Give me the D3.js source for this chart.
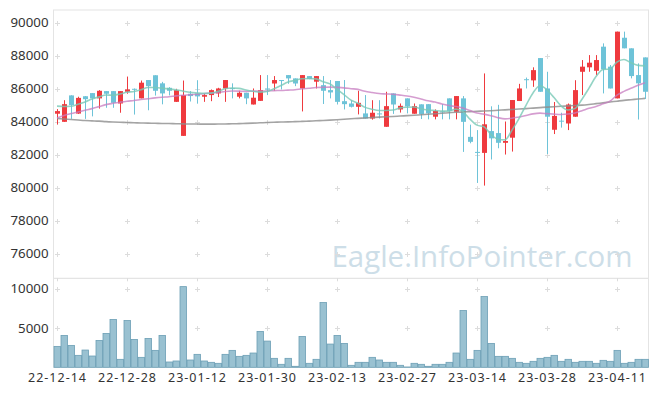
<!DOCTYPE html>
<html>
<head>
<meta charset="utf-8">
<script src="https://cdn.jsdelivr.net/npm/d3@7"></script>
<style>
  html, body { margin: 0; padding: 0; background: #fff; }
  svg { display: block; font-family: "Noto Sans", "Open Sans", sans-serif; }
</style>
</head>
<body>
<svg id="chart" width="657" height="396"></svg>
<script>
const dates = ["22-12-14","22-12-15","22-12-16","22-12-19","22-12-20","22-12-21","22-12-22","22-12-23","22-12-26","22-12-27",
"22-12-28","22-12-29","23-01-02","23-01-03","23-01-04","23-01-05","23-01-06","23-01-09","23-01-10","23-01-11",
"23-01-12","23-01-13","23-01-16","23-01-17","23-01-18","23-01-19","23-01-20","23-01-25","23-01-26","23-01-27",
"23-01-30","23-01-31","23-02-01","23-02-02","23-02-03","23-02-06","23-02-07","23-02-08","23-02-09","23-02-10",
"23-02-13","23-02-14","23-02-15","23-02-16","23-02-17","23-02-20","23-02-21","23-02-22","23-02-23","23-02-24",
"23-02-27","23-02-28","23-03-02","23-03-03","23-03-06","23-03-07","23-03-08","23-03-09","23-03-10","23-03-13",
"23-03-14","23-03-15","23-03-16","23-03-17","23-03-20","23-03-21","23-03-22","23-03-23","23-03-24","23-03-27",
"23-03-28","23-03-29","23-03-30","23-03-31","23-04-03","23-04-04","23-04-05","23-04-06","23-04-07","23-04-10",
"23-04-11","23-04-12","23-04-13","23-04-14","23-04-17"];

const open = [84490,84000,85600,84500,85550,85740,85420,85860,85860,85110,
85820,86000,85420,86530,86820,86330,86060,85210,83150,85700,
85720,85520,85620,85720,86020,86040,85520,85760,85050,85270,
86020,86320,86530,86830,86630,86020,86770,86430,86220,85920,
86470,85250,85110,84910,84510,84200,84510,83700,85720,84750,
85420,84490,85060,85070,84310,84630,85420,84610,85420,83090,
82180,82120,83440,83320,82730,83040,85260,86580,86510,87860,
86020,83520,84070,83900,84310,87030,87300,87090,88550,87340,
85420,89090,88450,86830,87900];

const high = [84770,85310,85610,85520,85560,85740,85920,85860,85860,85860,
86740,86020,86500,86530,86820,86420,86100,86000,86500,85860,
86520,85720,85960,86060,86530,86330,85880,85760,86020,86830,
86830,86770,86530,86830,86630,86830,86770,86770,86770,86530,
86470,86530,85310,85880,85620,85310,85310,85820,85720,85110,
85420,85110,85060,85070,84750,85070,85420,85560,85560,83830,
83500,86930,84940,85030,84020,85320,86300,86680,87300,87860,
87030,85200,84550,85110,86520,87740,88040,88040,88750,87440,
89460,89460,88450,87540,87900];

const low = [83840,84000,84180,84480,84180,84330,84800,84850,84850,84550,
85700,84440,85420,84700,85590,85060,85600,85200,83150,85230,
85100,85210,85250,85500,85210,85420,85420,85070,85050,85270,
85620,85880,85960,86300,86160,84630,86580,86020,85080,85420,
85050,84750,84870,84450,84200,84130,84200,83700,84480,84560,
84510,84490,84170,84150,84150,84150,84150,84150,82180,82700,
80300,80140,81720,82400,82020,82200,85260,86020,86120,85820,
82050,83260,83650,83500,84310,85620,87030,86830,85720,86020,
85420,88450,86630,84140,85380];

const close = [84650,85070,85010,85450,85370,85420,85880,85700,85150,85860,
85960,85980,86370,86160,85880,85720,85880,85920,85620,85560,
85540,85620,85920,86020,86530,86020,85760,85420,85460,85920,
85990,86530,86500,86630,86320,86830,86590,86770,85880,85780,
85210,85070,84910,85150,84200,84550,84490,84950,85050,84970,
84930,84950,84470,84510,84660,84600,84660,85560,84000,82790,
82150,83850,83000,82730,82840,85320,86020,86560,87130,85820,
84310,84360,84040,85050,85920,87340,87580,87740,87180,86020,
89460,88450,86770,86330,85820];

const volume = [2671,4070,2798,1526,2205,1442,3434,4325,6106,1018,
5978,3562,1272,3689,2162,4070,678,806,10303,933,
1654,806,636,509,1654,2162,1399,1526,1823,4579,
3350,1145,382,1145,127,3943,509,1018,8268,2968,
4070,3053,254,636,636,1272,933,636,636,254,
40,509,382,127,382,382,636,1823,7250,1018,
2162,9031,3053,1399,1399,1145,636,509,763,1145,
1272,1526,763,1018,636,763,763,509,890,763,
2162,509,636,1018,1018];

const ma5 = [84950,84930,84940,85060,85200,85380,85510,85620,85610,85690,
85790,85840,85940,86080,86075,86040,85995,85935,85860,85790,
85750,85720,85740,85850,86000,86050,86025,85925,85850,85800,
85840,86000,86200,86410,86510,86610,86620,86600,86430,86300,
85970,85650,85310,85120,84875,84760,84690,84690,84715,84840,
84885,84900,84790,84720,84685,84650,84650,84770,84620,84160,
83800,83700,83230,82950,82910,83500,84200,85000,85750,86180,
85940,85470,84970,84720,84800,85370,86040,86740,87170,87200,
87620,87770,87575,87420,87390];

const ma20 = [84230,84390,84500,84600,84700,84800,84920,85040,85120,85190,
85250,85290,85350,85400,85450,85490,85520,85570,85610,85640,
85676,85703,85748,85777,85834,85865,85859,85844,85860,85863,
85864,85891,85898,85921,85944,85999,86035,86077,86090,86101,
86085,86058,86007,85964,85847,85774,85711,85688,85667,85619,
85565,85486,85384,85278,85195,85083,84984,84924,84830,84680,
84529,84467,84371,84250,84182,84220,84296,84378,84482,84526,
84495,84466,84445,84472,84536,84672,84821,84930,85089,85250,
85614,85844,86033,86213,86362];

const ma60 = [84200,84170,84140,84110,84080,84060,84040,84010,83990,83975,
83960,83945,83930,83920,83910,83900,83895,83885,83875,83870,
83865,83862,83862,83865,83870,83880,83890,83905,83920,83940,
83960,83975,83990,84000,84010,84025,84045,84065,84085,84105,
84130,84160,84185,84210,84235,84260,84285,84305,84325,84350,
84375,84400,84430,84460,84490,84520,84550,84580,84605,84620,
84640,84655,84675,84700,84725,84750,84775,84800,84830,84860,
84890,84915,84940,84965,84990,85010,85050,85100,85150,85200,
85250,85300,85340,85380,85420];

const priceTicks = [76000,78000,80000,82000,84000,86000,88000,90000];
const volumeTicks = [5000,10000];
const tickDates = ["22-12-14","22-12-28","23-01-12","23-01-30","23-02-13","23-02-27","23-03-14","23-03-28","23-04-11"];

const svg = d3.select("#chart");
const left = 53.5, right = 648.5;
const pTop = 10, pBot = 278.3, vTop = 278.3, vBot = 367.3;

const x = d3.scaleBand().domain(d3.range(dates.length)).range([left, right]).padding(0);
const xc = i => x(i) + x.bandwidth() / 2;
const yP = d3.scaleLinear().domain([74528, 90770]).range([pBot, pTop]);
const yV = d3.scaleLinear().domain([0, 11366]).range([vBot, vTop]);

const gridColor = "#dcdcdc";
const tickIdx = tickDates.map(d => dates.indexOf(d));

// frame
svg.append("rect").attr("x", left).attr("y", pTop).attr("width", right - left).attr("height", vBot - pTop)
  .attr("fill", "none").attr("stroke", "#e4e4e4").attr("stroke-width", 1);
svg.append("line").attr("x1", left).attr("x2", right).attr("y1", pBot).attr("y2", pBot)
  .attr("stroke", "#e4e4e4").attr("stroke-width", 1.2);

// watermark
svg.append("text").attr("x", 331.5).attr("y", 267).attr("font-size", 30)
  .attr("font-family", "'Open Sans', 'Noto Sans', sans-serif")
  .attr("textLength", 301).attr("lengthAdjust", "spacingAndGlyphs")
  .attr("fill", "#cddee8").text("Eagle.InfoPointer.com");

// grid crosses
function cross(g, cx, cy) {
  g.append("line").attr("x1", cx - 2.5).attr("x2", cx + 2.5).attr("y1", cy).attr("y2", cy).attr("stroke", gridColor);
  g.append("line").attr("x1", cx).attr("x2", cx).attr("y1", cy - 2.5).attr("y2", cy + 2.5).attr("stroke", gridColor);
}
const gGrid = svg.append("g");
tickIdx.forEach(i => {
  priceTicks.forEach(v => cross(gGrid, Math.round(xc(i)) + 0.5, Math.round(yP(v)) + 0.5));
  volumeTicks.forEach(v => cross(gGrid, Math.round(xc(i)) + 0.5, Math.round(yV(v)) + 0.5));
  gGrid.append("line").attr("x1", Math.round(xc(i)) + 0.5).attr("x2", Math.round(xc(i)) + 0.5)
    .attr("y1", pBot).attr("y2", pBot + 3).attr("stroke", gridColor);
});

// volume bars
svg.append("g").selectAll("rect").data(volume).join("rect")
  .attr("x", (d, i) => x(i) + 0.5)
  .attr("y", d => yV(d))
  .attr("width", x.bandwidth() - 0.5)
  .attr("height", d => vBot - yV(d))
  .attr("fill", "#99c1d1")
  .attr("stroke", "#6c9fb5")
  .attr("stroke-width", 0.8);

// candles
const up = "#ef3a3e", down = "#6ec3d8";
const gC = svg.append("g");
dates.forEach((d, i) => {
  const o = open[i], c = close[i], h = high[i], l = low[i];
  const col = c > o ? up : down;
  const cx = Math.round(xc(i)) + 0.5;
  gC.append("line").attr("x1", cx).attr("x2", cx).attr("y1", yP(h)).attr("y2", yP(l))
    .attr("stroke", col).attr("stroke-width", 1);
  const top = yP(Math.max(o, c)), bot = yP(Math.min(o, c));
  gC.append("rect").attr("x", cx - 2.5).attr("y", top).attr("width", 5)
    .attr("height", Math.max(1, bot - top)).attr("fill", col);
});

// moving averages
const line = arr => d3.line().x((d, i) => xc(i)).y(d => yP(d)).curve(d3.curveMonotoneX)(arr);
svg.append("path").attr("d", line(ma60)).attr("fill", "none").attr("stroke", "#8d8d8d")
  .attr("stroke-width", 1.6).attr("stroke-opacity", 0.8);
svg.append("path").attr("d", line(ma20)).attr("fill", "none").attr("stroke", "#c77cc0")
  .attr("stroke-width", 1.6).attr("stroke-opacity", 0.75);
svg.append("path").attr("d", line(ma5)).attr("fill", "none").attr("stroke", "#79c9b6")
  .attr("stroke-width", 1.6).attr("stroke-opacity", 0.8);

// axes labels
const lab = svg.append("g").attr("fill", "#333").attr("font-size", 12.5);
priceTicks.forEach(v => lab.append("text").attr("x", 48.5).attr("y", yP(v)).attr("dy", "0.35em")
  .attr("text-anchor", "end").attr("textLength", 38).attr("lengthAdjust", "spacingAndGlyphs").text(v));
volumeTicks.forEach(v => lab.append("text").attr("x", 48.5).attr("y", yV(v)).attr("dy", "0.35em")
  .attr("text-anchor", "end").attr("textLength", String(v).length * 7.6)
  .attr("lengthAdjust", "spacingAndGlyphs").text(v));
tickIdx.forEach((i, k) => lab.append("text").attr("x", xc(i) - 29).attr("y", 381.8)
  .attr("textLength", 58).attr("lengthAdjust", "spacing").text(tickDates[k]));
</script>
</body>
</html>
